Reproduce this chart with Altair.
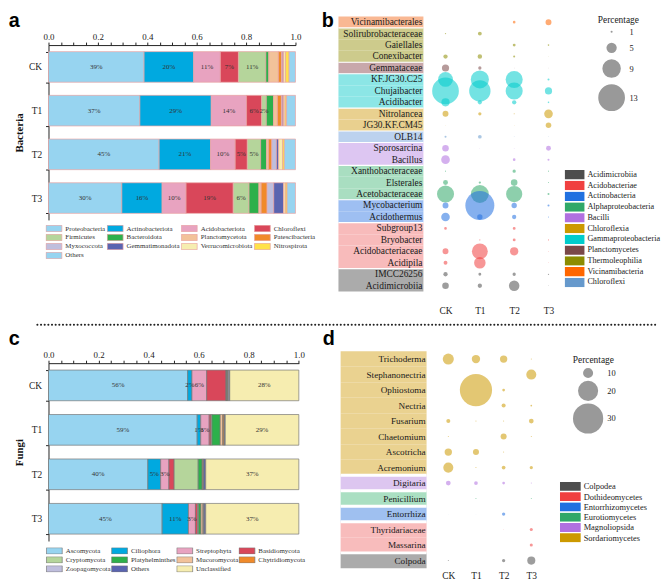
import altair as alt
import pandas as pd

SERIF = "Liberation Serif"
SANS = "Liberation Sans"

samples = ["CK", "T1", "T2", "T3"]

# ---------------- panel a: bacteria phyla ----------------
bac_phyla = ["Proteobacteria", "Actinobacteriota", "Acidobacteriota", "Chloroflexi",
             "Firmicutes", "Bacteroidota", "Planctomycetota", "Patescibacteria",
             "Myxococcota", "Gemmatimonadota", "Verrucomicrobiota", "Nitrospirota", "Others"]
bac_CK = [0.387, 0.201, 0.108, 0.073, 0.111, 0.012, 0.039, 0.013, 0.004, 0.004, 0.008, 0.014, 0.026]
bac_T1 = [0.370, 0.289, 0.143, 0.061, 0.019, 0.029, 0.016, 0.016, 0.004, 0.005, 0.006, 0.006, 0.036]
bac_T2 = [0.448, 0.208, 0.100, 0.049, 0.054, 0.024, 0.008, 0.013, 0.019, 0.009, 0.016, 0.007, 0.045]
bac_T3 = [0.297, 0.163, 0.097, 0.191, 0.064, 0.040, 0.009, 0.024, 0.027, 0.040, 0.007, 0.007, 0.034]
bac_colors = ["#97D4F0", "#00A9E0", "#E8A3C0", "#D9475A", "#B5D59B", "#2DB04B", "#F2C29A",
              "#F08A2A", "#BFBEDD", "#5A64B0", "#F6EDB0", "#FFE24A", "#97D4F0"]
bac_labelled = [0, 1, 2, 3, 4]

# ---------------- panel c: fungi phyla ----------------
fun_phyla = ["Ascomycota", "Ciliophora", "Streptophyta", "Basidiomycota", "Cryptomycota",
             "Platyhelminthes", "Mucoromycota", "Chytridiomycota", "Zoopagomycota", "Others",
             "Unclassified"]
fun_CK = [0.556, 0.017, 0.059, 0.077, 0.002, 0.002, 0.002, 0.002, 0.004, 0.003, 0.276]
fun_T1 = [0.594, 0.014, 0.034, 0.007, 0.004, 0.033, 0.010, 0.005, 0.003, 0.002, 0.294]
fun_T2 = [0.397, 0.051, 0.033, 0.021, 0.096, 0.016, 0.003, 0.002, 0.002, 0.007, 0.372]
fun_T3 = [0.454, 0.105, 0.028, 0.009, 0.004, 0.009, 0.008, 0.003, 0.002, 0.006, 0.372]
fun_colors = ["#97D4F0", "#00A9E0", "#E8A3C0", "#D9475A", "#B5D59B", "#2DB04B", "#F2C29A",
              "#F08A2A", "#BFBEDD", "#5A64B0", "#F6EDB0"]
fun_labelled = [0, 1, 2, 10]

# ---------------- panel b: bacteria genera ----------------
b_taxa = ["Vicinamibacterales", "Solirubrobacteraceae", "Gaiellales", "Conexibacter",
          "Gemmataceae", "KF.JG30.C25", "Chujaibacter", "Acidibacter", "Nitrolancea",
          "JG30.KF.CM45", "OLB14", "Sporosarcina", "Bacillus", "Xanthobacteraceae",
          "Elsterales", "Acetobacteraceae", "Mycobacterium", "Acidothermus", "Subgroup13",
          "Bryobacter", "Acidobacteriaceae", "Acidipila", "IMCC26256", "Acidimicrobiia"]
b_class = ["Vicinamibacteria", "Thermoleophilia", "Thermoleophilia", "Thermoleophilia",
           "Planctomycetes", "Gammaproteobacteria", "Gammaproteobacteria", "Gammaproteobacteria",
           "Chloroflexia", "Chloroflexia", "Chloroflexi", "Bacilli", "Bacilli",
           "Alphaproteobacteria", "Alphaproteobacteria", "Alphaproteobacteria",
           "Actinobacteria", "Actinobacteria", "Acidobacteriae", "Acidobacteriae",
           "Acidobacteriae", "Acidobacteriae", "Acidimicrobiia", "Acidimicrobiia"]
b_CK = [0, 0.6, 0, 2.1, 3.5, 7.2, 13.0, 4.0, 2.9, 0.2, 1.0, 3.2, 4.2, 0.5, 2.4, 8.3, 2.9, 4.2, 1.3, 0, 2.9, 1.9, 2.1, 3.2]
b_T1 = [0, 1.9, 0, 2.2, 1.6, 8.8, 10.4, 2.0, 1.6, 0, 1.8, 0.2, 0, 0, 1.1, 8.7, 14.1, 2.6, 0, 0.5, 7.7, 5.6, 1.4, 2.1]
b_T2 = [1.3, 0, 1.4, 1.0, 0.2, 8.3, 8.3, 2.1, 0.5, 0.2, 0.3, 0.3, 1.3, 1.6, 3.2, 7.9, 2.6, 2.1, 1.4, 1.4, 4.0, 0, 1.6, 5.1]
b_T3 = [2.9, 0, 0.8, 0.2, 0.2, 1.0, 3.5, 0.8, 4.2, 2.7, 0.3, 2.4, 1.0, 0.5, 0.5, 1.0, 1.0, 0.5, 0, 0.5, 0.3, 0.3, 0.6, 0.3]
b_class_order = ["Acidimicrobiia", "Acidobacteriae", "Actinobacteria", "Alphaproteobacteria",
                 "Bacilli", "Chloroflexia", "Gammaproteobacteria", "Planctomycetes",
                 "Thermoleophilia", "Vicinamibacteria", "Chloroflexi"]
b_class_colors = ["#4D4D4D", "#F04040", "#2070E0", "#30A868", "#B070E0", "#CC9900",
                  "#00CCCC", "#7A4848", "#8C8C00", "#FF6600", "#6699CC"]
b_bg_colors = ["#ABABAB", "#F8BBBB", "#9EBFF2", "#A9DEC1", "#DDC6F2", "#E9D08F",
               "#8CE6E6", "#C8A8AB", "#CDCB8C", "#F9B893", "#BCD2EE"]
b_size_ticks = [1, 5, 9, 13]

# ---------------- panel d: fungi genera ----------------
d_taxa = ["Trichoderma", "Stephanonectria", "Ophiostoma", "Nectria", "Fusarium", "Chaetomium",
          "Ascotricha", "Acremonium", "Digitaria", "Penicillium", "Entorrhiza",
          "Thyridariaceae", "Massarina", "Colpoda"]
d_class = ["Sordariomycetes"] * 8 + ["Magnoliopsida", "Eurotiomycetes", "Entorrhizomycetes",
                                     "Dothideomycetes", "Dothideomycetes", "Colpodea"]
d_CK = [11.0, 0, 0, 0, 4.0, 1.0, 7.3, 10.0, 4.7, 0, 0.3, 0, 0, 1.0]
d_T1 = [8.3, 0, 32.0, 0, 1.0, 0, 6.0, 1.0, 3.7, 1.0, 0.3, 0, 0, 0]
d_T2 = [7.3, 0, 2.7, 4.0, 1.0, 6.0, 1.0, 3.7, 2.7, 0, 3.3, 0.5, 0, 3.3]
d_T3 = [1.0, 10.0, 0, 1.7, 4.7, 1.0, 0, 3.3, 1.0, 1.0, 0, 3.0, 3.0, 8.0]
d_class_order = ["Colpodea", "Dothideomycetes", "Entorrhizomycetes", "Eurotiomycetes",
                 "Magnoliopsida", "Sordariomycetes"]
d_class_colors = ["#4D4D4D", "#F04040", "#2070E0", "#30A868", "#B070E0", "#CC9900"]
d_bg_colors = ["#ABABAB", "#F8BCBC", "#9FC0F0", "#AADFC2", "#DDC6F0", "#EAD290"]
d_size_ticks = [10, 20, 30]

RES = dict(color="independent", fill="independent", size="independent",
           x="independent", y="independent")


def letter_chart(letter, x, y, w, h):
    return alt.Chart(pd.DataFrame({"t": [letter]})).mark_text(
        align="left", baseline="top", font=SANS, fontWeight="bold", fontSize=20, color="#000"
    ).encode(text="t:N", x=alt.value(x), y=alt.value(y)).properties(width=w, height=h)


def bar_panel(cats, colors, series, labelled, ytitle, width, height, pin, pout, stroke,
              leg_x, leg_y, col_pad, row_pad):
    rows = []
    for s, vals in zip(samples, series):
        for i, (c, v) in enumerate(zip(cats, vals)):
            rows.append({"sample": s, "cat": c, "value": v, "ord": i})
    df = pd.DataFrame(rows)
    xscale = alt.Scale(domain=[0, 1], nice=False, zero=False)
    xaxis = alt.Axis(orient="top", values=[round(i * 0.05, 2) for i in range(21)],
                     labelExpr="(abs(datum.value * 5 - round(datum.value * 5)) < 0.001) ? format(datum.value, '.1f') : ''",
                     tickSize=3, tickColor="#222", domainColor="#222", labelFont=SERIF,
                     labelFontSize=9, labelColor="#222", labelPadding=1, grid=False, title=None,
                     labelFlush=False, labelOverlap=False)
    yscale = alt.Scale(domain=samples, paddingInner=pin, paddingOuter=pout)
    yaxis = alt.Axis(title=ytitle, titleFont=SERIF, titleFontWeight="bold", titleFontSize=11,
                     titleColor="#111", titlePadding=4, labelFont=SERIF, labelFontSize=9.5,
                     labelColor="#222", tickBand="extent", tickSize=3, tickColor="#222",
                     domainColor="#222", labelPadding=4)
    base = alt.Chart(df).transform_stack(stack="value", groupby=["sample"],
                                         sort=[alt.SortField("ord", order="ascending")],
                                         as_=["x0", "x1"])
    bars = base.mark_bar(stroke=stroke, strokeWidth=0.7).encode(
        x=alt.X("x0:Q", scale=xscale, axis=xaxis),
        x2="x1:Q",
        y=alt.Y("sample:N", scale=yscale, axis=yaxis),
        color=alt.Color("cat:N", scale=alt.Scale(domain=cats, range=colors),
                        legend=alt.Legend(orient="none", legendX=leg_x, legendY=leg_y, columns=4,
                                          direction="horizontal", title=None,
                                          symbolType="M-1,-0.4L1,-0.4L1,0.4L-1,0.4Z",
                                          symbolSize=256, symbolStrokeColor=stroke,
                                          symbolStrokeWidth=0.7, labelFont=SERIF, labelFontSize=7,
                                          labelColor="#333", columnPadding=col_pad,
                                          rowPadding=row_pad, clipHeight=7, labelOffset=3,
                                          labelLimit=0)),
    )
    cond = " || ".join(f"datum.ord == {i}" for i in labelled)
    txt = base.transform_filter(cond).transform_calculate(
        mid="(datum.x0 + datum.x1) / 2"
    ).mark_text(font=SERIF, fontSize=7, color="#333").encode(
        x=alt.X("mid:Q", scale=xscale, axis=xaxis),
        y=alt.Y("sample:N", scale=yscale, axis=yaxis),
        text=alt.Text("value:Q", format=".0%"),
    )
    return alt.layer(bars, txt).properties(width=width, height=height)


def bubble_panel(taxa, classes, series, class_order, class_colors, bg_colors, width, height,
                 rect_x0, rect_x1, text_x, fs_label, sep_sw, size_max_v, size_max_px,
                 size_values, size_leg_xy, size_row_pad, color_leg_xy, color_path,
                 color_sym_size, color_clip, color_row_pad, color_fs, xlabel_pad, letter=None,
                 letter_x=0, letter_y=0):
    rows = []
    for s, vals in zip(samples, series):
        for t, c, v in zip(taxa, classes, vals):
            rows.append({"sample": s, "taxon": t, "cls": c, "value": v})
    df = pd.DataFrame(rows)
    lab = pd.DataFrame({"taxon": taxa, "grp": classes})
    firsts = pd.DataFrame({"taxon": [taxa[i] for i in range(1, len(taxa))
                                     if classes[i] != classes[i - 1]]})
    yscale = alt.Scale(type="band", domain=taxa, paddingInner=0, paddingOuter=0)
    Y = alt.Y("taxon:N", scale=yscale, axis=None)
    rect = alt.Chart(lab).mark_rect().encode(
        y=Y, x=alt.value(rect_x0), x2=alt.value(rect_x1),
        fill=alt.Fill("grp:N", scale=alt.Scale(domain=class_order, range=bg_colors), legend=None))
    seps = alt.Chart(firsts).mark_rule(color="white", strokeWidth=sep_sw).encode(
        y=alt.Y("taxon:N", scale=yscale, axis=None, bandPosition=0),
        x=alt.value(rect_x0), x2=alt.value(rect_x1))
    text = alt.Chart(lab).mark_text(align="right", baseline="middle", font=SERIF,
                                    fontSize=fs_label, color="#1a1a1a").encode(
        y=Y, x=alt.value(text_x), text="taxon:N")
    circ = alt.Chart(df).transform_filter("datum.value > 0").mark_circle(opacity=0.55).encode(
        x=alt.X("sample:N", scale=alt.Scale(domain=samples),
                axis=alt.Axis(title=None, orient="bottom", domain=False, ticks=False, tickSize=0,
                              labelAngle=0, labelFont=SERIF, labelFontSize=9.5,
                              labelColor="#222", labelPadding=xlabel_pad)),
        y=Y,
        size=alt.Size("value:Q",
                      scale=alt.Scale(type="pow", exponent=2, domain=[0, size_max_v],
                                      range=[0, size_max_px]),
                      legend=alt.Legend(title="Percentage", values=size_values, orient="none",
                                        legendX=size_leg_xy[0], legendY=size_leg_xy[1],
                                        symbolFillColor="#999999", symbolStrokeWidth=0,
                                        symbolOpacity=1, titleFont=SERIF, titleFontSize=9.5,
                                        titleFontWeight="normal", titleColor="#222",
                                        labelFont=SERIF, labelFontSize=8.5, labelColor="#222",
                                        rowPadding=size_row_pad, labelOffset=4, titlePadding=3)),
        color=alt.Color("cls:N", scale=alt.Scale(domain=class_order, range=class_colors),
                        legend=alt.Legend(title=None, orient="none", legendX=color_leg_xy[0],
                                          legendY=color_leg_xy[1], symbolType=color_path,
                                          symbolSize=color_sym_size, symbolOpacity=1,
                                          symbolStrokeWidth=0, labelFont=SERIF,
                                          labelFontSize=color_fs, labelColor="#222",
                                          clipHeight=color_clip, rowPadding=color_row_pad,
                                          labelOffset=3)),
    )
    layers = [rect, seps, text, circ]
    if letter:
        layers.append(alt.Chart(pd.DataFrame({"t": [letter]})).mark_text(
            align="left", baseline="top", font=SANS, fontWeight="bold", fontSize=20,
            color="#000").encode(text="t:N", x=alt.value(letter_x), y=alt.value(letter_y)))
    return alt.layer(*layers).resolve_scale(color="independent", fill="independent").properties(
        width=width, height=height)


panel_a = bar_panel(bac_phyla, bac_colors, [bac_CK, bac_T1, bac_T2, bac_T3], bac_labelled,
                    "Bacteria", 250, 177, 0.3, 0.15, "#E9A3A3", -3, 182.2, 1, 1.1)
panel_c = bar_panel(fun_phyla, fun_colors, [fun_CK, fun_T1, fun_T2, fun_T3], fun_labelled,
                    "Fungi", 253.4, 180, 0.31, 0.155, "#777777", -2.6, 186.5, -4, 1.1)

panel_b = bubble_panel(b_taxa, b_class, [b_CK, b_T1, b_T2, b_T3], b_class_order,
                       b_class_colors, b_bg_colors, 139, 278.4, -91, -5, -6, 9.5, 1.2,
                       15, 974, b_size_ticks, (171.5, -1.2), 6, (138, 155.5),
                       "M-1,-0.475L1,-0.475L1,0.475L-1,0.475Z", 400, 9.6, -0.1, 8.3, 14.7,
                       letter="b", letter_x=-108, letter_y=-4.9)
panel_d = bubble_panel(d_taxa, d_class, [d_CK, d_T1, d_T2, d_T3], d_class_order,
                       d_class_colors, d_bg_colors, 112, 219.7, -95, -8, -9, 9.3, 3,
                       35, 1274, d_size_ticks, (140, 4), 2, (127, 132),
                       "M-1,-0.43L1,-0.43L1,0.43L-1,0.43Z", 441, 9.4, 0.4, 8.5, 2)

spacer_a = letter_chart("a", -40.3, -4.9, 272, 9.3)
spacer_c = letter_chart("c", -40.3, -9.9, 272, 11.0)
spacer_d = letter_chart("d", -113, -9.9, 112, 11.3)

separator = alt.Chart(pd.DataFrame({"k": [0]})).mark_rule(
    strokeDash=[0.1, 3.6], strokeCap="round", strokeWidth=2, color="#222"
).encode(x=alt.value(-11.3), x2=alt.value(616.7), y=alt.value(9.0)).properties(width=1, height=13.3)

col_a = alt.vconcat(spacer_a, panel_a, spacing=0).resolve_scale(**RES)
row1 = alt.hconcat(col_a, panel_b, spacing=4.5).resolve_scale(**RES)
col_c = alt.vconcat(spacer_c, panel_c, spacing=0).resolve_scale(**RES)
col_d = alt.vconcat(spacer_d, panel_d, spacing=0).resolve_scale(**RES)
row2 = alt.hconcat(col_c, col_d, spacing=5.7).resolve_scale(**RES)

chart = alt.vconcat(row1, separator, row2, spacing=0).resolve_scale(**RES).properties(
    padding={"left": 0, "top": 0, "right": 0, "bottom": 0}
).configure_view(stroke=None)

chart.save("out.html", embed_options={"renderer": "svg", "actions": False})
